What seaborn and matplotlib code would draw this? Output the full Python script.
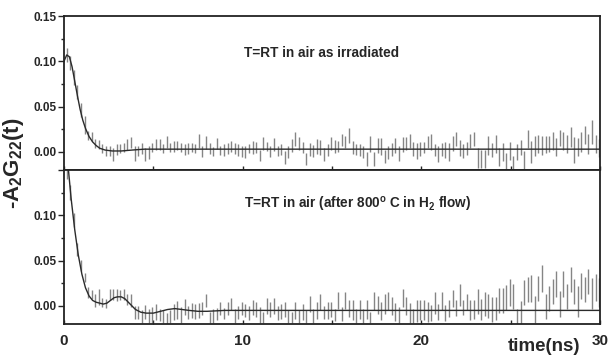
import numpy as np
import matplotlib
matplotlib.use("Agg")
import matplotlib.pyplot as plt
from matplotlib.ticker import MultipleLocator, FixedLocator
import seaborn as sns

# time channels (ns)
T0 = 0.15
STEP = 0.2

# upper panel: as irradiated
top_val = [0.107, 0.098, 0.082, 0.066, 0.046, 0.030, 0.018, 0.017, 0.009, 0.008,
           0.004, 0.001, 0.001, -0.003, 0.003, 0.004, 0.005, 0.008, 0.010, -0.002,
           0.001, 0.004, -0.003, -0.001, 0.005, 0.008, 0.008, 0.004, 0.011, 0.005,
           0.006, 0.007, 0.005, 0.003, 0.004, 0.005, 0.004, 0.012, 0.000, 0.010,
           0.004, 0.000, 0.009, 0.002, 0.002, 0.004, 0.006, 0.004, 0.002, 0.000,
           0.000, 0.004, 0.005, 0.005, -0.004, 0.009, 0.006, 0.000, 0.008, 0.001,
           0.003, -0.006, 0.000, 0.007, 0.014, 0.009, 0.005, -0.008, 0.003, 0.001,
           0.006, 0.005, -0.003, 0.002, 0.009, 0.006, 0.006, 0.013, 0.011, 0.018,
           0.005, 0.003, 0.002, 0.000, -0.008, 0.009, -0.008, 0.007, 0.006, -0.005,
           -0.001, 0.003, 0.007, -0.002, 0.008, 0.009, 0.012, 0.003, 0.001, 0.003,
           0.005, 0.011, 0.011, 0.002, -0.002, 0.003, 0.002, 0.000, 0.009, 0.014,
           0.004, 0.001, 0.004, 0.012, 0.014, -0.007, -0.008, -0.008, 0.007, 0.002,
           0.009, -0.006, 0.000, -0.011, 0.001, -0.013, 0.000, 0.005, -0.009, 0.014,
           0.000, 0.006, 0.009, 0.007, 0.008, 0.009, 0.012, 0.005, 0.015, 0.012,
           0.009, 0.016, 0.002, 0.005, 0.011, 0.019, 0.009, 0.022, 0.009, 0.004]
top_err = [0.008, 0.008, 0.008, 0.008, 0.008, 0.010, 0.005, 0.005, 0.005, 0.005,
           0.005, 0.005, 0.005, 0.007, 0.006, 0.005, 0.005, 0.006, 0.006, 0.008,
           0.006, 0.006, 0.007, 0.007, 0.005, 0.006, 0.006, 0.005, 0.007, 0.005,
           0.006, 0.005, 0.005, 0.006, 0.006, 0.005, 0.005, 0.008, 0.006, 0.007,
           0.006, 0.005, 0.006, 0.005, 0.007, 0.006, 0.006, 0.006, 0.007, 0.006,
           0.007, 0.005, 0.007, 0.006, 0.006, 0.007, 0.005, 0.006, 0.007, 0.006,
           0.006, 0.007, 0.007, 0.007, 0.008, 0.007, 0.006, 0.007, 0.007, 0.007,
           0.008, 0.008, 0.007, 0.007, 0.007, 0.007, 0.006, 0.007, 0.007, 0.008,
           0.007, 0.006, 0.007, 0.007, 0.008, 0.009, 0.008, 0.008, 0.009, 0.007,
           0.007, 0.007, 0.008, 0.008, 0.008, 0.007, 0.008, 0.008, 0.009, 0.008,
           0.006, 0.007, 0.009, 0.007, 0.009, 0.007, 0.009, 0.010, 0.008, 0.008,
           0.009, 0.008, 0.007, 0.008, 0.008, 0.011, 0.010, 0.010, 0.010, 0.008,
           0.010, 0.010, 0.010, 0.010, 0.010, 0.008, 0.009, 0.008, 0.010, 0.010,
           0.012, 0.011, 0.010, 0.010, 0.009, 0.009, 0.010, 0.010, 0.009, 0.010,
           0.010, 0.011, 0.014, 0.010, 0.011, 0.010, 0.011, 0.013, 0.010, 0.010]

# lower panel: after 800 C in H2 flow
bot_val = [0.148, 0.125, 0.095, 0.062, 0.045, 0.031, 0.015, 0.013, 0.006, 0.010,
           0.004, 0.003, 0.013, 0.013, 0.012, 0.012, 0.013, 0.007, 0.006, -0.007,
           -0.007, -0.012, -0.007, -0.011, -0.010, -0.007, -0.010, -0.012, -0.014, -0.012,
           -0.007, -0.005, -0.010, -0.001, -0.007, -0.005, -0.006, -0.005, -0.003, 0.006,
           -0.013, -0.011, -0.009, -0.003, -0.008, -0.003, 0.002, -0.011, -0.007, -0.003,
           -0.005, -0.008, -0.002, -0.004, -0.010, -0.013, 0.000, -0.004, 0.000, -0.008,
           -0.006, -0.004, -0.012, -0.013, -0.005, -0.012, -0.007, -0.012, 0.002, -0.011,
           -0.005, 0.004, -0.007, -0.005, -0.004, -0.010, 0.006, -0.009, 0.006, -0.003,
           -0.005, -0.011, -0.004, -0.011, -0.004, -0.013, 0.005, 0.001, -0.006, 0.002,
           0.005, 0.000, -0.007, -0.010, 0.009, 0.000, -0.008, -0.011, -0.006, -0.005,
           -0.005, -0.007, -0.008, 0.003, -0.007, 0.005, -0.008, -0.003, 0.008, -0.002,
           0.012, -0.002, 0.004, -0.005, -0.004, 0.005, -0.004, 0.002, 0.000, -0.004,
           -0.003, 0.006, 0.006, 0.009, 0.015, 0.010, -0.014, -0.008, 0.015, 0.018,
           0.019, -0.004, 0.019, 0.030, -0.001, 0.008, 0.016, 0.024, 0.002, 0.024,
           0.010, 0.029, 0.016, 0.005, 0.022, 0.018, 0.027, 0.014, 0.020, 0.015]
bot_err = [0.008, 0.008, 0.008, 0.007, 0.006, 0.005, 0.006, 0.005, 0.007, 0.009,
           0.005, 0.005, 0.006, 0.006, 0.007, 0.006, 0.006, 0.006, 0.007, 0.007,
           0.007, 0.007, 0.008, 0.008, 0.009, 0.009, 0.007, 0.007, 0.006, 0.007,
           0.009, 0.010, 0.009, 0.009, 0.007, 0.008, 0.008, 0.008, 0.007, 0.007,
           0.006, 0.008, 0.007, 0.007, 0.006, 0.007, 0.007, 0.008, 0.007, 0.007,
           0.007, 0.008, 0.008, 0.008, 0.009, 0.006, 0.009, 0.008, 0.009, 0.008,
           0.008, 0.008, 0.007, 0.006, 0.009, 0.007, 0.009, 0.007, 0.009, 0.008,
           0.009, 0.009, 0.007, 0.009, 0.008, 0.007, 0.009, 0.008, 0.009, 0.009,
           0.011, 0.008, 0.010, 0.008, 0.010, 0.006, 0.010, 0.010, 0.010, 0.011,
           0.010, 0.010, 0.010, 0.009, 0.010, 0.010, 0.011, 0.008, 0.012, 0.011,
           0.011, 0.011, 0.009, 0.012, 0.009, 0.010, 0.009, 0.009, 0.009, 0.009,
           0.012, 0.008, 0.009, 0.011, 0.010, 0.014, 0.012, 0.013, 0.013, 0.014,
           0.013, 0.014, 0.014, 0.014, 0.015, 0.014, 0.011, 0.013, 0.014, 0.014,
           0.015, 0.015, 0.014, 0.015, 0.014, 0.014, 0.014, 0.014, 0.014, 0.014,
           0.014, 0.014, 0.014, 0.017, 0.014, 0.014, 0.014, 0.017, 0.015, 0.016]

# fitted curves
top_fit_t = [0.0, 0.15, 0.3, 0.45, 0.6, 0.75, 0.9, 1.05, 1.2, 1.4, 1.6, 1.8, 2.0,
             2.3, 2.7, 3.2, 3.8, 4.5, 30.0]
top_fit_y = [0.100, 0.107, 0.105, 0.094, 0.078, 0.062, 0.047, 0.035, 0.026, 0.017,
             0.011, 0.007, 0.004, 0.002, 0.001, 0.001, 0.002, 0.003, 0.003]
bot_fit_t = [0.0, 0.2, 0.4, 0.6, 0.8, 1.0, 1.2, 1.4, 1.6, 1.8, 2.0, 2.2, 2.4, 2.6,
             2.8, 3.0, 3.2, 3.4, 3.6, 3.8, 4.0, 4.3, 4.6, 5.0, 5.4, 5.8, 6.2, 6.6,
             7.0, 7.5, 8.0, 9.0, 10.0, 30.0]
bot_fit_y = [0.200, 0.160, 0.118, 0.084, 0.056, 0.035, 0.020, 0.011, 0.006, 0.004,
             0.003, 0.002, 0.003, 0.006, 0.009, 0.010, 0.010, 0.008, 0.004, 0.000,
             -0.004, -0.007, -0.008, -0.008, -0.006, -0.004, -0.003, -0.004, -0.005,
             -0.006, -0.006, -0.005, -0.005, -0.005]

sns.set_style("ticks")
plt.rcParams['font.family'] = ['Liberation Sans', 'DejaVu Sans']
plt.rcParams['font.weight'] = 'bold'
plt.rcParams['mathtext.default'] = 'regular'

fig = plt.figure(figsize=(6.08, 3.62), dpi=100)
ax_top = fig.add_axes([0.1053, 0.5304, 0.8816, 0.4254])
ax_bot = fig.add_axes([0.1053, 0.105, 0.8816, 0.4254])

panels = [
    (ax_top, top_val, top_err, top_fit_t, top_fit_y, "T=RT in air as irradiated", 0.109),
    (ax_bot, bot_val, bot_err, bot_fit_t, bot_fit_y,
     "T=RT in air (after 800$^{o}$ C in H$_2$ flow)", 0.112),
]

for ax, val, err, ft, fy, label, ly in panels:
    v = np.array(val)
    e = np.array(err)
    t = T0 + STEP * np.arange(len(v))
    ax.vlines(t, v - e, v + e, colors='#858585', linewidth=1.0)
    sns.lineplot(x=ft, y=fy, ax=ax, color='#2b2b2b', linewidth=1.0)
    ax.set_xlim(0, 30)
    ax.set_ylim(-0.02, 0.15)
    ax.xaxis.set_major_locator(MultipleLocator(10))
    ax.xaxis.set_minor_locator(MultipleLocator(5))
    ax.yaxis.set_minor_locator(MultipleLocator(0.025))
    ax.tick_params(axis='x', which='both', direction='in', length=3, width=1,
                   pad=7)
    ax.tick_params(axis='y', which='major', direction='out', length=4, width=1,
                   pad=1, labelsize=8.5)
    ax.tick_params(axis='y', which='minor', direction='out', length=2.5, width=1)
    for s in ax.spines.values():
        s.set_visible(True)
        s.set_color('#222222')
        s.set_linewidth(1.3)
    ax.text(10.1, ly, label, fontsize=9.8, fontweight='bold',
            va='center', ha='left')
    ax.set_xlabel('')
    ax.set_ylabel('')

ax_top.set_yticks([0.00, 0.05, 0.10, 0.15])
ax_top.set_yticklabels(['0.00', '0.05', '0.10', '0.15'], fontweight='bold')
ax_top.tick_params(axis='x', labelbottom=False)

ax_bot.yaxis.set_major_locator(FixedLocator([0.00, 0.05, 0.10, 0.15]))
ax_bot.set_yticklabels(['0.00', '0.05', '0.10', ''], fontweight='bold')
ax_bot.set_xticks([0, 10, 20, 30])
ax_bot.set_xticklabels(['0', '10', '20', '30'], fontweight='bold', fontsize=11)

fig.text(0.023, 0.55, '-A$_2$G$_{22}$(t)', rotation=90, fontsize=16,
         fontweight='bold', ha='center', va='center')
fig.text(0.894, 0.044, 'time(ns)', fontsize=13.5, fontweight='bold',
         ha='center', va='center')

fig.savefig('out.png', dpi=100)
